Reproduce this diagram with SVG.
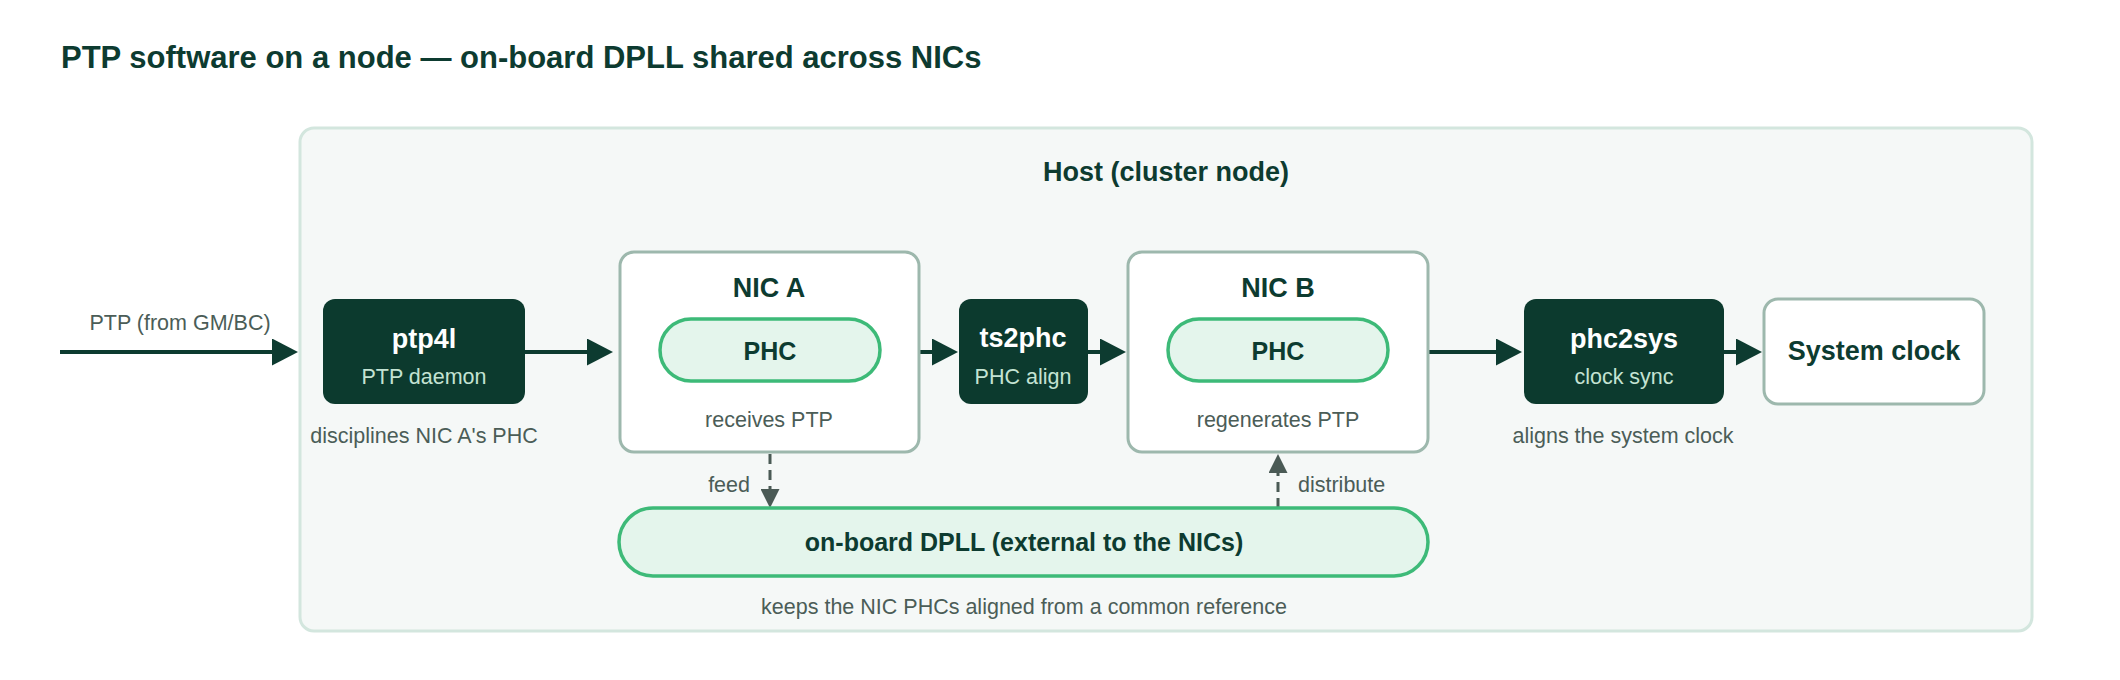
<svg xmlns="http://www.w3.org/2000/svg" width="2120" height="680" viewBox="0 0 2120 680">
<defs>
<style>
.t{font-family:"Liberation Sans",Arial,sans-serif}
.title{font-size:31px;font-weight:bold;fill:#0d3b30}
.h{font-size:27px;font-weight:bold;fill:#0d3b30;text-anchor:middle}
.dk{fill:#0c3a2e}
.wl{font-size:27px;font-weight:bold;fill:#ffffff;text-anchor:middle}
.sl{font-size:21.5px;fill:#c4e3d3;text-anchor:middle}
.note{font-size:21.5px;fill:#4b5d57;text-anchor:middle}
.nic{fill:#ffffff;stroke:#9db8ad;stroke-width:3}
.pill{fill:#e4f5ec;stroke:#3dba78;stroke-width:3.5}
.main{stroke:#0d3b30;stroke-width:4;fill:none}
.dash{stroke:#4a5a55;stroke-width:3;fill:none;stroke-dasharray:10 6}
</style>
<marker id="ah" markerUnits="userSpaceOnUse" markerWidth="26" markerHeight="27" refX="16" refY="13.5" orient="auto">
<path d="M0,0 L26,13.5 L0,27 z" fill="#0d3b30"/>
</marker>
<marker id="ahs" markerUnits="userSpaceOnUse" markerWidth="19" markerHeight="19" refX="9" refY="9.5" orient="auto">
<path d="M0,0 L19,9.5 L0,19 z" fill="#4a5a55"/>
</marker>
</defs>
<rect width="2120" height="680" fill="#ffffff"/>
<text class="t title" x="61" y="68">PTP software on a node — on-board DPLL shared across NICs</text>

<g id="host">
<rect x="300" y="128" width="1732" height="503" rx="14" fill="#f5f8f7" stroke="#d3e6de" stroke-width="3"/>
<text class="t h" x="1166" y="181">Host (cluster node)</text>
</g>

<g id="connectors">
<line class="main" x1="60" y1="352" x2="288" y2="352" marker-end="url(#ah)"/>
<text class="t note" x="180" y="330">PTP (from GM/BC)</text>
<line class="main" x1="525" y1="352" x2="603" y2="352" marker-end="url(#ah)"/>
<line class="main" x1="920" y1="352" x2="948" y2="352" marker-end="url(#ah)"/>
<line class="main" x1="1088" y1="352" x2="1116" y2="352" marker-end="url(#ah)"/>
<line class="main" x1="1428" y1="352" x2="1512" y2="352" marker-end="url(#ah)"/>
<line class="main" x1="1724" y1="352" x2="1752" y2="352" marker-end="url(#ah)"/>
<line class="dash" x1="770" y1="454" x2="770" y2="498" marker-end="url(#ahs)"/>
<text class="t note" x="750" y="492" style="text-anchor:end">feed</text>
<line class="dash" x1="1278" y1="508" x2="1278" y2="464" marker-end="url(#ahs)"/>
<text class="t note" x="1298" y="492" style="text-anchor:start">distribute</text>
</g>

<g id="ptp4l">
<rect class="dk" x="323" y="299" width="202" height="105" rx="12"/>
<text class="t wl" x="424" y="348">ptp4l</text>
<text class="t sl" x="424" y="384">PTP daemon</text>
<text class="t note" x="424" y="443">disciplines NIC A's PHC</text>
</g>

<g id="nicA">
<rect class="nic" x="620" y="252" width="299" height="200" rx="14"/>
<text class="t h" x="769" y="297">NIC A</text>
<rect class="pill" x="660" y="319" width="220" height="62" rx="31"/>
<text class="t h" x="770" y="360" style="font-size:25px">PHC</text>
<text class="t note" x="769" y="427">receives PTP</text>
</g>

<g id="ts2phc">
<rect class="dk" x="959" y="299" width="129" height="105" rx="12"/>
<text class="t wl" x="1023" y="347">ts2phc</text>
<text class="t sl" x="1023" y="384">PHC align</text>
</g>

<g id="nicB">
<rect class="nic" x="1128" y="252" width="300" height="200" rx="14"/>
<text class="t h" x="1278" y="297">NIC B</text>
<rect class="pill" x="1168" y="319" width="220" height="62" rx="31"/>
<text class="t h" x="1278" y="360" style="font-size:25px">PHC</text>
<text class="t note" x="1278" y="427">regenerates PTP</text>
</g>

<g id="phc2sys">
<rect class="dk" x="1524" y="299" width="200" height="105" rx="12"/>
<text class="t wl" x="1624" y="348">phc2sys</text>
<text class="t sl" x="1624" y="384">clock sync</text>
<text class="t note" x="1623" y="443">aligns the system clock</text>
</g>

<g id="sysclock">
<rect class="nic" x="1764" y="299" width="220" height="105" rx="14"/>
<text class="t h" x="1874" y="360">System clock</text>
</g>

<g id="dpll">
<rect class="pill" x="619" y="508" width="809" height="68" rx="34"/>
<text class="t h" x="1024" y="551" style="font-size:25px">on-board DPLL (external to the NICs)</text>
<text class="t note" x="1024" y="614">keeps the NIC PHCs aligned from a common reference</text>
</g>
</svg>
